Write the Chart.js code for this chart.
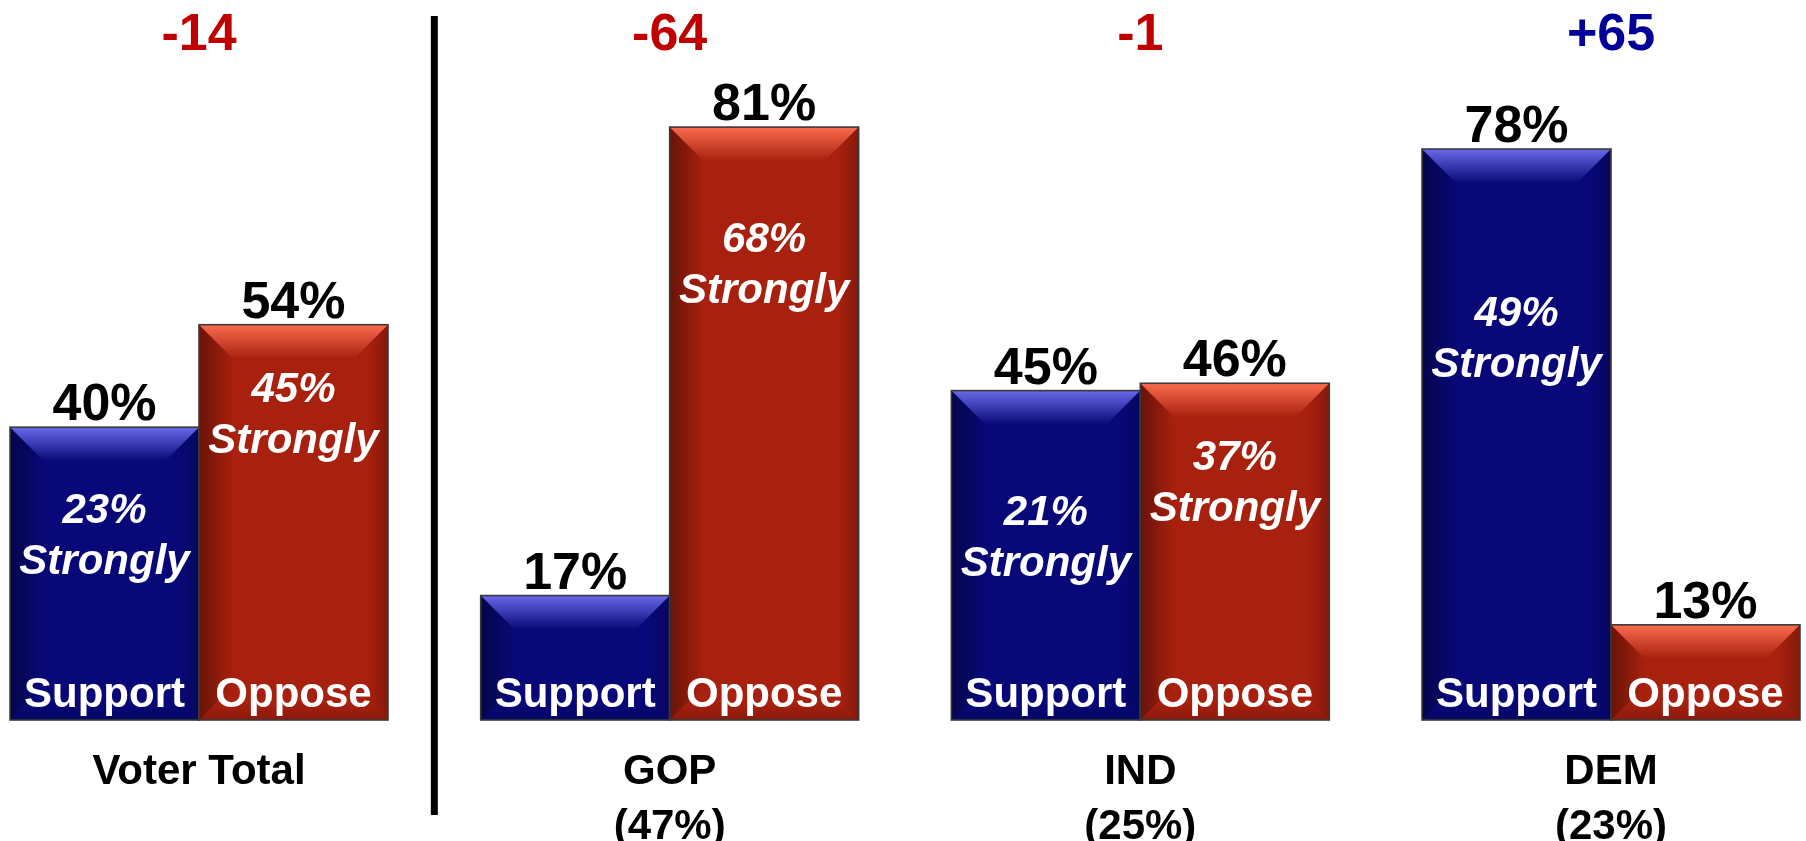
<!DOCTYPE html>
<html><head><meta charset="utf-8">
<script src="https://cdn.jsdelivr.net/npm/chart.js@4/dist/chart.umd.min.js"></script>
<style>html,body{margin:0;padding:0;background:#fff;} #wrap{width:1806px;height:841px;position:relative;}</style>
</head><body><div id="wrap"><canvas id="c"></canvas></div>
<script>
// ---- data ----
const categories = [['Voter Total'], ['GOP', '(47%)'], ['IND', '(25%)'], ['DEM', '(23%)']];
const seriesNames = ['Support', 'Oppose'];
const supportValues = [40, 17, 45, 78];
const opposeValues = [54, 81, 46, 13];
const supportStrongly = [23, null, 21, 49];
const opposeStrongly = [45, 68, 37, null];
const netLabels = ['-14', '-64', '-1', '+65'];

// ---- layout (not data) ----
const FONT = '"Liberation Sans", Arial, Helvetica, sans-serif';
const strongOffsets = [[96, null, 134, 177], [77, 125, 87, null]]; // px below bar top to first-line baseline
const netColors = v => v.startsWith('+') ? '#000099' : '#C00000';
const bevelColors = [
  {light: [110, 110, 240]},
  {light: [255, 112, 82]}
];

function drawBevel(ctx, l, t, r, b, c) {
  const d = Math.min(34, (b - t) / 2, (r - l) / 2);
  const L = c.light;
  ctx.save();
  let g = ctx.createLinearGradient(l, 0, l + d, 0);
  g.addColorStop(0, 'rgba(0,0,0,0.38)'); g.addColorStop(1, 'rgba(0,0,0,0)');
  ctx.fillStyle = g; ctx.beginPath();
  ctx.moveTo(l, t); ctx.lineTo(l + d, t + d); ctx.lineTo(l + d, b - d); ctx.lineTo(l, b); ctx.closePath(); ctx.fill();
  g = ctx.createLinearGradient(r, 0, r - d * 0.6, 0);
  g.addColorStop(0, 'rgba(0,0,0,0.22)'); g.addColorStop(1, 'rgba(0,0,0,0)');
  ctx.fillStyle = g; ctx.beginPath();
  ctx.moveTo(r, t); ctx.lineTo(r - d, t + d); ctx.lineTo(r - d, b - d); ctx.lineTo(r, b); ctx.closePath(); ctx.fill();
  g = ctx.createLinearGradient(0, b, 0, b - d * 0.5);
  g.addColorStop(0, 'rgba(0,0,0,0.18)'); g.addColorStop(1, 'rgba(0,0,0,0)');
  ctx.fillStyle = g; ctx.beginPath();
  ctx.moveTo(l, b); ctx.lineTo(l + d, b - d); ctx.lineTo(r - d, b - d); ctx.lineTo(r, b); ctx.closePath(); ctx.fill();
  g = ctx.createLinearGradient(0, t, 0, t + d);
  g.addColorStop(0, `rgba(${L[0]},${L[1]},${L[2]},0.95)`);
  g.addColorStop(1, `rgba(${L[0]},${L[1]},${L[2]},0)`);
  ctx.fillStyle = g; ctx.beginPath();
  ctx.moveTo(l, t); ctx.lineTo(r, t); ctx.lineTo(r - d, t + d); ctx.lineTo(l + d, t + d); ctx.closePath(); ctx.fill();
  ctx.strokeStyle = '#3a3a3a'; ctx.lineWidth = 1.6;
  ctx.strokeRect(l, t, r - l, b - t);
  ctx.restore();
}

const decorPlugin = {
  id: 'decor',
  afterDatasetsDraw(chart) {
    const ctx = chart.ctx;
    const bars = [];
    chart.data.datasets.forEach((ds, di) => {
      const meta = chart.getDatasetMeta(di);
      bars[di] = meta.data.map(bar => bar.getProps(['x', 'y', 'base', 'width'], true));
      bars[di].forEach(p => {
        drawBevel(ctx, p.x - p.width / 2, p.y, p.x + p.width / 2, p.base, bevelColors[di]);
      });
    });
    ctx.save();
    ctx.textAlign = 'center';
    ctx.textBaseline = 'alphabetic';
    const strong = [supportStrongly, opposeStrongly];
    const vals = [supportValues, opposeValues];
    bars.forEach((arr, di) => {
      arr.forEach((p, i) => {
        // value above bar
        ctx.fillStyle = '#000';
        ctx.font = `bold 52px ${FONT}`;
        ctx.fillText(vals[di][i] + '%', p.x, p.y - 7);
        // series name inside bottom
        ctx.fillStyle = '#fff';
        ctx.font = `bold 42px ${FONT}`;
        ctx.fillText(seriesNames[di], p.x, p.base - 13);
        // strongly
        if (strong[di][i] != null) {
          ctx.font = `italic bold 42px ${FONT}`;
          const y0 = p.y + strongOffsets[di][i];
          ctx.fillText(strong[di][i] + '%', p.x, y0);
          ctx.fillText('Strongly', p.x, y0 + 51);
        }
      });
    });
    const xs = chart.scales.x;
    categories.forEach((lines, i) => {
      const x = xs.getPixelForValue(i);
      ctx.fillStyle = '#000';
      ctx.font = `bold 42px ${FONT}`;
      lines.forEach((ln, k) => ctx.fillText(ln, x, 784 + k * 55));
      ctx.fillStyle = netColors(netLabels[i]);
      ctx.font = `bold 52px ${FONT}`;
      ctx.fillText(netLabels[i], x, 50);
    });
    // divider between Voter Total and party groups
    const a = bars[1][0], b = bars[0][1];
    const dx = ((a.x + a.width / 2) + (b.x - b.width / 2)) / 2;
    ctx.strokeStyle = '#000'; ctx.lineWidth = 7;
    ctx.beginPath(); ctx.moveTo(dx, 16); ctx.lineTo(dx, 815); ctx.stroke();
    ctx.restore();
  }
};

new Chart(document.getElementById('c'), {
  type: 'bar',
  data: {
    labels: categories.map(c => c.join(' ')),
    datasets: [
      {label: seriesNames[0], data: supportValues, backgroundColor: '#080878', borderWidth: 0, clip: false},
      {label: seriesNames[1], data: opposeValues, backgroundColor: '#A8200E', borderWidth: 0, clip: false}
    ]
  },
  options: {
    responsive: true,
    maintainAspectRatio: false,
    animation: false,
    categoryPercentage: 0.803,
    barPercentage: 1.0,
    layout: {padding: {left: 199, right: 195, top: 0, bottom: 121}},
    plugins: {legend: {display: false}, tooltip: {enabled: false}},
    scales: {
      x: {display: false, offset: false},
      y: {display: false, min: 0, max: 98.36}
    }
  },
  plugins: [decorPlugin]
});
</script>
</body></html>
